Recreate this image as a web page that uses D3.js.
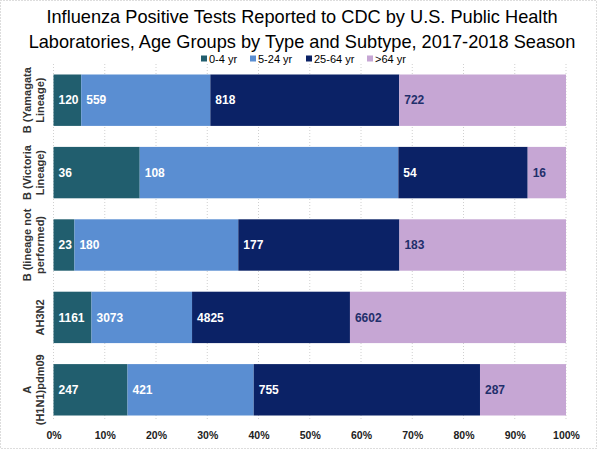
<!DOCTYPE html>
<html>
<head>
<meta charset="utf-8">
<script src="https://cdn.jsdelivr.net/npm/d3@7"></script>
<style>
  body { margin: 0; background: #fff; }
  text { font-family: "Liberation Sans", Arial, sans-serif; }
</style>
</head>
<body>
<div id="chart-area"></div>
<script>
const categories = ['B (Yamagata Lineage)', 'B (Victoria Lineage)', 'B (lineage not performed)', 'AH3N2', 'A (H1N1)pdm09'];
const categoryLines = [['B (Yamagata', 'Lineage)'], ['B (Victoria', 'Lineage)'], ['B (lineage not', 'performed)'], ['AH3N2'], ['A', '(H1N1)pdm09']];
const ageGroups = ['0-4 yr', '5-24 yr', '25-64 yr', '>64 yr'];
const age0to4 = [120, 36, 23, 1161, 247];
const age5to24 = [559, 108, 180, 3073, 421];
const age25to64 = [818, 54, 177, 4825, 755];
const age65plus = [722, 16, 183, 6602, 287];
const xTicks = [0, 0.1, 0.2, 0.3, 0.4, 0.5, 0.6, 0.7, 0.8, 0.9, 1];

const colors = ['#215e6e', '#5a8ed2', '#0b2266', '#c6a6d4'];
const labelColors = ['#fff', '#fff', '#fff', '#1f2f6b'];

const WIDTH = 600, HEIGHT = 450;
const MARGIN = { LEFT: 53.5, RIGHT: 34, TOP: 64, BOTTOM: 24 };

const rows = categories.map((c, i) => ({
  cat: c,
  '0-4 yr': age0to4[i],
  '5-24 yr': age5to24[i],
  '25-64 yr': age25to64[i],
  '>64 yr': age65plus[i]
}));

const stacked = d3.stack().keys(ageGroups).offset(d3.stackOffsetExpand)(rows);

const x = d3.scaleLinear().domain([0, 1]).range([MARGIN.LEFT, WIDTH - MARGIN.RIGHT]);
const y = d3.scaleBand().domain(categories).range([MARGIN.TOP, HEIGHT - MARGIN.BOTTOM]).paddingInner(0.29).paddingOuter(0.145);

const svg = d3.select('#chart-area').append('svg')
  .attr('width', WIDTH)
  .attr('height', HEIGHT);

svg.append('rect')
  .attr('x', 0.5).attr('y', 0.5)
  .attr('width', WIDTH - 4).attr('height', HEIGHT - 2)
  .attr('fill', 'none')
  .attr('stroke', '#bbb')
  .attr('stroke-dasharray', '1,2');

// title
const title = ['Influenza Positive Tests Reported to CDC by U.S. Public Health',
  'Laboratories, Age Groups by Type and Subtype, 2017-2018 Season'];
svg.selectAll('text.title').data(title).enter().append('text')
  .attr('class', 'title')
  .attr('x', 302)
  .attr('y', (d, i) => 23 + i * 25)
  .attr('text-anchor', 'middle')
  .attr('font-size', 18.2)
  .attr('fill', '#000')
  .text(d => d);

// legend
const legendX = [201, 250, 306, 367];
const legend = svg.selectAll('g.legend').data(ageGroups).enter().append('g')
  .attr('class', 'legend')
  .attr('transform', (d, i) => `translate(${legendX[i]}, 59)`);
legend.append('rect')
  .attr('x', 0).attr('y', -3.5)
  .attr('width', 6).attr('height', 6)
  .attr('fill', (d, i) => colors[i]);
legend.append('text')
  .attr('x', 8).attr('y', 3.5)
  .attr('font-size', 11)
  .attr('fill', '#000')
  .text(d => d);

// gridlines
svg.append('g').selectAll('line').data(xTicks).enter().append('line')
  .attr('x1', d => x(d)).attr('x2', d => x(d))
  .attr('y1', MARGIN.TOP).attr('y2', 420)
  .attr('stroke', '#d0d0d0')
  .attr('stroke-dasharray', '1,2');

// x axis
const xAxis = d3.axisBottom(x).tickValues(xTicks).tickFormat(d3.format('.0%')).tickSize(0).tickPadding(0);
const gx = svg.append('g').attr('transform', 'translate(0, 432)').call(xAxis);
gx.select('.domain').remove();
gx.selectAll('text')
  .attr('font-size', 10.5)
  .attr('font-weight', 'bold')
  .attr('fill', '#222')
  .style('font-family', '"Liberation Sans", Arial, sans-serif');

// bars
const series = svg.append('g').selectAll('g').data(stacked).enter().append('g')
  .attr('fill', (d, i) => colors[i]);
series.selectAll('rect').data(d => d).enter().append('rect')
  .attr('x', d => x(d[0]))
  .attr('y', d => y(d.data.cat))
  .attr('width', d => x(d[1]) - x(d[0]))
  .attr('height', y.bandwidth());

// data labels
series.each(function(s, si) {
  d3.select(this).selectAll('text').data(s).enter().append('text')
    .attr('x', d => x(d[0]) + 5)
    .attr('y', d => y(d.data.cat) + y.bandwidth() / 2)
    .attr('dy', '0.35em')
    .attr('font-size', 12)
    .attr('font-weight', 'bold')
    .attr('fill', labelColors[si])
    .text(d => d.data[s.key]);
});

// category labels
categories.forEach((c, i) => {
  const lines = categoryLines[i];
  const cy = y(c) + y.bandwidth() / 2;
  lines.forEach((line, j) => {
    const lx = 40 - (lines.length - 1 - j) * 13;
    svg.append('text')
      .attr('transform', `translate(${lx}, ${cy}) rotate(-90)`)
      .attr('text-anchor', 'middle')
      .attr('dy', '0.35em')
      .attr('font-size', 11)
      .attr('font-weight', 'bold')
      .attr('fill', '#333')
      .text(line);
  });
});
</script>
</body>
</html>
